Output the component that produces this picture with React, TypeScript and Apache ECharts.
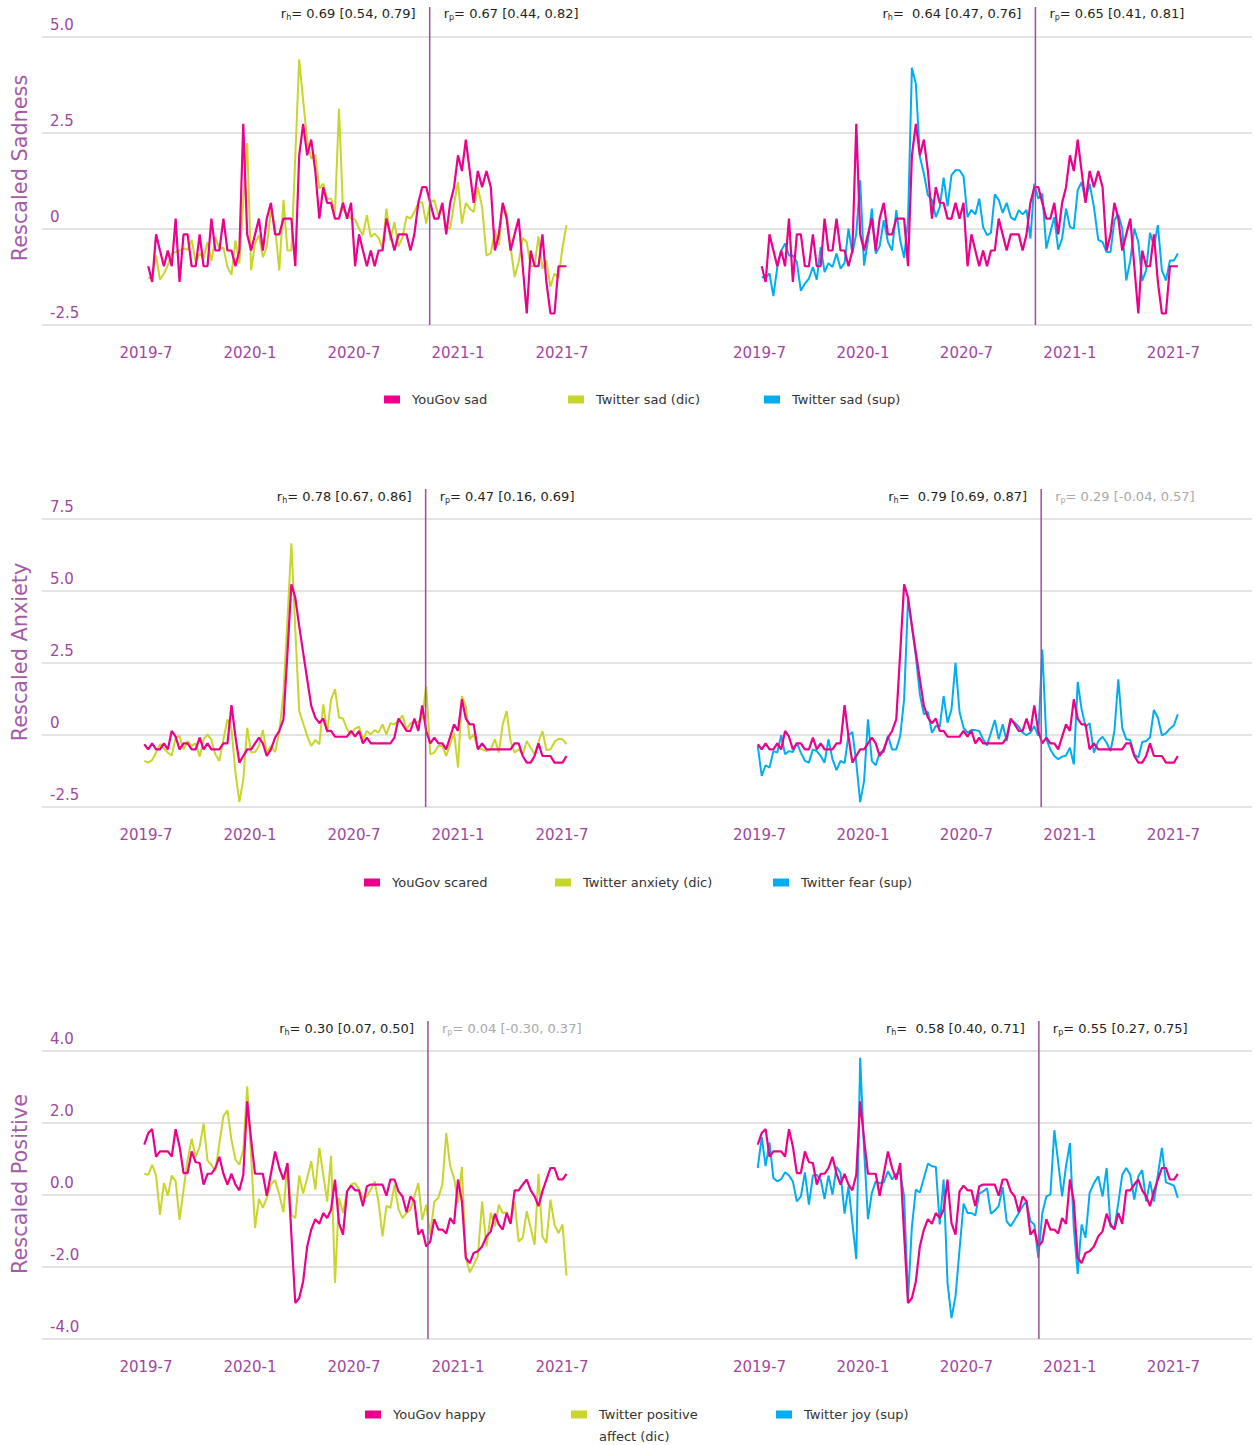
import React, { useEffect, useRef } from 'react';
import * as echarts from 'echarts';

// ---------- data ----------
const FIRST_WEEK = '2019-06-28'; // first weekly observation (rows 2 and 3); row 1 starts one week later
const WEEKS = 107;
const xTickLabels = ['2019-7', '2020-1', '2020-7', '2021-1', '2021-7'];

const yougovSad = [
  -0.97, -1.38, -0.14, -0.56, -0.97, -0.56, -0.97, 0.27, -1.38, -0.14,
  -0.14, -0.97, -0.97, -0.14, -0.97, -0.97, 0.27, -0.56, -0.56, 0.27,
  -0.56, -0.56, -0.97, -0.56, 2.74, -0.14, -0.56, -0.14, 0.27, -0.56,
  0.27, 0.68, -0.14, -0.14, 0.27, 0.27, 0.27, -0.97, 1.92, 2.74,
  1.92, 2.33, 1.51, 0.27, 1.09, 0.68, 0.68, 0.27, 0.27, 0.68,
  0.27, 0.68, -0.97, -0.14, -0.56, -0.97, -0.56, -0.97, -0.56, -0.56,
  0.27, -0.14, -0.56, -0.14, -0.14, -0.14, -0.56, -0.14, 0.68, 1.09,
  1.09, 0.68, 0.27, 0.27, 0.68, -0.14, 0.68, 1.09, 1.92, 1.51,
  2.33, 1.51, 0.68, 1.51, 1.09, 1.51, 1.09, -0.56, -0.14, 0.68,
  0.27, -0.56, -0.14, 0.27, -0.97, -2.2, -0.56, -0.97, -0.97, -0.14,
  -1.38, -2.2, -2.2, -0.97, -0.97, -0.97,
];
const twitterSadDic = [
  -1.29, -1.25, -0.69, -1.32, -1.16, -0.95, -0.64, -0.6, -0.56, -0.51,
  -0.54, -0.28, -0.86, -0.64, -0.77, -0.34, -0.83, -0.21, -0.51, -0.49,
  -0.99, -1.19, -0.3, -0.9, 0.75, 2.24, -1.08, -0.38, -0.16, -0.73,
  -0.47, 0.49, 0.05, -1.08, 0.76, -0.56, -0.56, 1.88, 4.41, 3.35,
  2.31, 1.83, 1.94, 1.05, 1.18, 0.79, 0.79, 0.44, 3.13, 0.49,
  0.4, 0.27, 0.25, 0.01, -0.16, 0.36, -0.21, -0.12, -0.23, -0.51,
  0.53, -0.3, 0.18, -0.45, -0.21, 0.33, 0.27, 0.44, 0.68, 0.7,
  0.14, 0.7, 0.75, 0.36, 0.57, 0.05, 0.01, 0.66, 1.22, 0.14,
  0.68, 0.53, 0.44, 1.09, 0.57, -0.69, -0.63, -0.03, -0.43, 0.66,
  0.4, -0.47, -1.25, -0.86, -0.23, -0.34, -0.97, -0.95, -0.19, -1.03,
  -0.82, -1.51, -1.16, -1.27, -0.47, 0.1,
];
const twitterSadSup = [
  -1.25, -1.27, -1.16, -1.75, -0.99, -0.57, -0.38, -0.69, -0.69, -0.86,
  -1.61, -1.42, -1.29, -0.99, -1.32, -0.47, -1.12, -0.89, -0.99, -0.64,
  -1.03, -0.89, 0.01, -0.64, -0.12, 1.27, -0.95, -0.3, 0.53, -0.64,
  -0.45, 0.23, -0.34, -0.56, 0.49, -0.3, -0.75, 0.23, 4.2, 3.78,
  1.88, 1.44, 0.88, 0.75, 0.31, 0.57, 1.34, 0.59, 1.4, 1.53,
  1.53, 1.37, 0.31, 0.5, 0.38, 0.79, 0.05, -0.16, -0.1, 0.9,
  0.76, 0.42, 0.68, 0.31, 0.23, 0.49, 0.38, 0.5, -0.25, 1.18,
  0.79, 0.92, -0.51, -0.08, 0.31, -0.54, -0.25, 0.53, 0.05, 0.01,
  1.01, 1.22, 0.75, 1.18, 0.57, -0.28, -0.34, -0.6, -0.6, 0.23,
  0.38, 0.01, -1.34, -0.82, 0.01, -0.34, -1.35, -1.08, -0.1, -0.45,
  0.1, -1.08, -1.34, -0.82, -0.82, -0.64,
];
const yougovScared = [
  -0.32, -0.5, -0.29, -0.5, -0.5, -0.29, -0.5, 0.14, -0.06, -0.5,
  -0.29, -0.29, -0.5, -0.5, -0.09, -0.5, -0.29, -0.5, -0.5, -0.5,
  -0.29, -0.29, 1.04, -0.06, -0.96, -0.73, -0.5, -0.5, -0.29, -0.09,
  -0.29, -0.73, -0.5, -0.09, 0.14, 0.54, 2.86, 5.23, 4.77, 3.78,
  2.86, 1.93, 1.01, 0.6, 0.41, 0.57, 0.14, 0.14, -0.06, -0.06,
  -0.06, -0.06, 0.14, -0.06, 0.14, -0.29, -0.09, -0.29, -0.29, -0.29,
  -0.29, -0.29, -0.29, -0.09, 0.57, 0.37, 0.14, 0.14, 0.57, 0.14,
  1.03, 0.14, -0.29, -0.09, -0.29, -0.29, -0.5, -0.06, 0.37, 0.14,
  1.24, 0.57, 0.37, 0.37, -0.5, -0.29, -0.5, -0.5, -0.5, -0.5,
  -0.5, -0.5, -0.5, -0.29, -0.29, -0.73, -0.96, -0.96, -0.73, -0.29,
  -0.73, -0.73, -0.73, -0.96, -0.96, -0.96, -0.73,
];
const twitterAnxietyDic = [
  -0.9, -0.96, -0.87, -0.61, -0.32, -0.47, -0.61, -0.71, -0.09, -0.03,
  -0.5, -0.21, -0.38, -0.29, -0.75, -0.15, 0.02, -0.17, -0.67, -0.9,
  -0.15, 0.54, 0.2, -1.31, -2.33, -1.54, 0.25, -0.61, -0.59, -0.38,
  0.17, -0.61, -0.38, -0.59, 0.08, 1.47, 4.02, 6.66, 3.67, 0.83,
  0.41, -0.03, -0.38, -0.17, -0.32, 1.06, 0.08, 1.24, 1.59, 0.6,
  0.57, 0.2, 0.02, 0.22, 0.29, -0.15, 0.14, 0.02, 0.17, 0.08,
  0.37, 0.02, 0.41, 0.37, 0.49, 0.68, 0.2, 0.41, 0.45, 0.45,
  0.6, 1.7, -0.67, -0.61, -0.38, -0.38, -0.73, -0.32, 0.08, -1.13,
  1.35, 1.01, -0.15, 0.02, -0.44, -0.5, -0.56, -0.5, -0.15, -0.61,
  0.37, 0.83, -0.21, -0.61, -0.5, -0.67, -0.21, -0.44, -0.67, -0.24,
  0.14, -0.52, -0.5, -0.24, -0.13, -0.15, -0.32,
];
const twitterFearSup = [
  -0.38, -1.42, -1.05, -1.13, -0.56, -0.61, -0.01, -0.67, -0.56, -0.59,
  -0.27, -0.61, -0.9, -0.96, -0.5, -0.56, -0.73, -0.96, -0.15, -0.84,
  -1.22, -0.9, -0.98, -0.01, 0.1, -0.96, -2.33, -1.6, 0.54, -0.9,
  -1.05, -0.61, -0.59, -0.03, -0.5, -0.5, -0.03, 1.24, 4.71, 3.78,
  2.74, 1.41, 0.72, 0.8, 0.08, 0.31, 0.29, 1.35, 0.43, 0.89,
  2.51, 0.8, 0.25, 0.08, 0.17, 0.17, 0.14, -0.15, -0.36, 0.08,
  0.52, -0.15, 0.37, -0.21, 0.52, 0.43, 0.29, 0.08, -0.01, 0.08,
  0.31, -0.03, 2.97, -0.15, -0.5, -0.73, -0.84, -0.75, -0.71, -0.44,
  -1.02, 1.84, 0.89, 0.29, 0.41, -0.61, -0.21, -0.06, -0.27, -0.56,
  0.14, 1.93, 0.25, -0.15, -0.17, -0.67, -0.79, -0.24, -0.21, -0.09,
  0.87, 0.6, -0.01, 0.06, 0.22, 0.34, 0.72,
];
const yougovHappy = [
  1.4, 1.72, 1.83, 1.06, 1.21, 1.21, 1.21, 1.07, 1.83, 1.35,
  0.61, 0.61, 1.21, 0.91, 0.89, 0.29, 0.59, 0.59, 0.75, 1.06,
  0.59, 0.29, 0.59, 0.29, 0.13, 0.56, 2.6, 1.54, 0.59, 0.59,
  0.59, -0.02, 0.59, 1.21, 0.75, 0.43, 0.89, -1.1, -3.0, -2.86,
  -2.4, -1.43, -0.96, -0.67, -0.8, -0.5, -0.64, -0.41, 0.43, -0.78,
  -1.1, 0.1, 0.26, 0.13, 0.13, -0.31, 0.24, 0.29, 0.29, 0.29,
  0.29, -0.02, 0.43, 0.43, 0.1, -0.04, -0.48, -0.04, -0.18, -1.1,
  -0.96, -1.43, -1.29, -0.67, -0.96, -0.96, -1.07, -0.64, -0.8, 0.43,
  -0.18, -1.75, -1.89, -1.61, -1.56, -1.43, -1.15, -1.01, -0.52, -0.82,
  -0.96, -0.5, -0.8, 0.13, 0.13, 0.29, 0.43, 0.13, -0.04, -0.31,
  0.1, 0.43, 0.75, 0.75, 0.43, 0.43, 0.59,
];
const twitterPositiveDic = [
  0.59, 0.56, 0.84, 0.54, -0.55, 0.33, -0.02, 0.54, 0.38, -0.69,
  0.15, 0.98, 1.56, 1.06, 1.35, 1.98, 0.96, 0.84, 0.66, 1.44,
  2.19, 2.35, 1.52, 0.98, 0.84, 1.26, 3.02, 1.07, -0.92, -0.11,
  -0.36, -0.08, 0.29, 0.41, 0.01, -0.48, 0.89, -0.55, -0.64, 0.54,
  0.04, 0.47, 0.94, 0.15, 1.31, 0.56, -0.18, 1.09, -2.44, -0.08,
  -0.5, 0.1, 0.29, 0.33, 0.15, -0.08, -0.04, 0.15, 0.38, -0.22,
  -1.15, -0.3, -0.36, 0.29, -0.39, -0.64, -0.5, -0.41, -0.04, 0.33,
  -0.69, -0.27, -1.1, -0.18, -0.08, 0.29, 1.72, 0.8, 0.47, -0.22,
  0.78, -1.75, -2.15, -1.94, -1.7, -0.18, -1.43, -0.5, -0.87, -0.27,
  -0.5, -0.48, -0.78, -0.18, -1.29, -1.19, -0.45, -0.92, -1.38, 0.59,
  -1.15, -1.33, -0.13, -0.82, -1.06, -0.82, -2.24,
];
const twitterJoySup = [
  0.75, 1.61, 0.8, 1.46, 0.47, 0.38, 0.44, 0.63, 0.54, 0.38,
  -0.18, -0.04, 0.63, -0.27, 0.54, 0.56, 0.43, -0.11, 0.54, 0.01,
  0.78, 0.61, -0.52, 0.24, -0.78, -1.78, 3.81, 1.26, -0.67, 0.06,
  0.38, 0.33, 0.35, 0.66, 0.43, 0.59, 0.61, -0.04, -2.9, -0.87,
  0.15, 0.07, 0.47, 0.87, 0.8, 0.78, -0.82, 0.43, -2.44, -3.42,
  -2.81, -1.52, -0.24, -0.5, -0.5, -0.57, 0.04, 0.1, 0.19, -0.52,
  -0.43, -0.31, 0.22, -0.73, -0.87, -0.69, -0.5, -0.31, -0.18, -0.73,
  -0.82, -1.75, -0.5, -0.04, 0.01, 1.8, 0.89, -0.04, 0.8, 1.44,
  -0.92, -2.19, -0.82, -1.19, 0.06, 0.33, 0.52, -0.04, 0.75, -0.87,
  -0.92, -0.22, 0.56, 0.75, 0.56, -0.13, 0.52, 0.69, -0.18, 0.38,
  -0.18, 0.56, 1.31, 0.35, 0.31, 0.26, -0.08,
];

// split date (drawn per panel) and correlation annotations
const splitDates = ['2020-11-12', '2020-11-01', '2020-11-05', '2020-11-11', '2020-11-09', '2020-11-07'];
const corrHospital = ['0.69 [0.54, 0.79]', ' 0.64 [0.47, 0.76]', '0.78 [0.67, 0.86]', ' 0.79 [0.69, 0.87]', '0.30 [0.07, 0.50]', ' 0.58 [0.40, 0.71]'];
const corrPost = ['0.67 [0.44, 0.82]', '0.65 [0.41, 0.81]', '0.47 [0.16, 0.69]', '0.29 [-0.04, 0.57]', '0.04 [-0.30, 0.37]', '0.55 [0.27, 0.75]'];
const corrPostSignificant = [true, true, true, false, false, true];

const rowTitles = ['Rescaled Sadness', 'Rescaled Anxiety', 'Rescaled Positive'];

// ---------- styling ----------
const PINK = '#ec008c';
const LIME = '#c8d62b';
const BLUE = '#00aeef';
const PURPLE = '#a0479c';
const TITLE_PURPLE = '#a45aa6';
const SPLIT_PURPLE = '#9b4f9b';
const FONT = '"DejaVu Sans", "Open Sans", sans-serif';

const GRID_H = 288;
const rowTops = [37, 519, 1051];
const panelLefts = [42, 656];
const panelWidths = [618, 599];
const PX_PER_MONTH = 416 / 24;
const AXIS_MIN = 2019 * 12; // January 2019 in month units

const rowY = [
  { min: -2.5, max: 5, interval: 2.5, fmt: (v: number) => (v === 0 ? '0' : v.toFixed(1)) },
  { min: -2.5, max: 7.5, interval: 2.5, fmt: (v: number) => (v === 0 ? '0' : v.toFixed(1)) },
  { min: -4, max: 4, interval: 2, fmt: (v: number) => v.toFixed(1) },
];
const annotTextY = [13, 496, 1028];
const splitLineTop = [7, 489, 1021];
const titleCenterY = [168, 652, 1184];

const legendRows = [
  { y: 399, items: [{ name: 'YouGov sad', x: 384 }, { name: 'Twitter sad (dic)', x: 568 }, { name: 'Twitter sad (sup)', x: 764 }] },
  { y: 882, items: [{ name: 'YouGov scared', x: 364 }, { name: 'Twitter anxiety (dic)', x: 555 }, { name: 'Twitter fear (sup)', x: 773 }] },
  { y: 1414, items: [{ name: 'YouGov happy', x: 365 }, { name: 'Twitter positive affect (dic)', x: 571 }, { name: 'Twitter joy (sup)', x: 776 }] },
];

function toMonthValue(ts: number) {
  const d = new Date(ts);
  const y = d.getUTCFullYear();
  const m = d.getUTCMonth();
  const dim = new Date(Date.UTC(y, m + 1, 0)).getUTCDate();
  return y * 12 + m + (d.getUTCDate() - 1) / dim;
}

const startTs = Date.parse(FIRST_WEEK + 'T00:00:00Z');
const weekX = Array.from({ length: WEEKS }, (_, i) => toMonthValue(startTs + i * 7 * 86400000));

function pairs(xs: number[], ys: number[]) {
  return ys.map((v, i) => [xs[i], v]);
}

const rowsSeries = [
  { xs: weekX.slice(1), yg: ['YouGov sad', yougovSad], dic: ['Twitter sad (dic)', twitterSadDic], sup: ['Twitter sad (sup)', twitterSadSup] },
  { xs: weekX, yg: ['YouGov scared', yougovScared], dic: ['Twitter anxiety (dic)', twitterAnxietyDic], sup: ['Twitter fear (sup)', twitterFearSup] },
  { xs: weekX, yg: ['YouGov happy', yougovHappy], dic: ['Twitter positive affect (dic)', twitterPositiveDic], sup: ['Twitter joy (sup)', twitterJoySup] },
] as any[];

function xLabel(v: number) {
  const y = Math.floor(v / 12);
  const m = Math.round(v - y * 12) + 1;
  const s = `${y}-${m}`;
  return xTickLabels.includes(s) ? s : '';
}

function buildOption() {
  const grid: any[] = [];
  const xAxis: any[] = [];
  const yAxis: any[] = [];
  const series: any[] = [];
  for (let r = 0; r < 3; r++) {
    for (let p = 0; p < 2; p++) {
      const k = r * 2 + p;
      grid.push({ left: panelLefts[p], top: rowTops[r], width: panelWidths[p], height: GRID_H });
      xAxis.push({
        gridIndex: k,
        type: 'value',
        min: AXIS_MIN,
        max: AXIS_MIN + panelWidths[p] / PX_PER_MONTH,
        interval: 6,
        axisLine: { show: false },
        axisTick: { show: false },
        splitLine: { show: false },
        axisLabel: { margin: 20, fontSize: 15, color: PURPLE, fontFamily: FONT, formatter: xLabel },
      });
      yAxis.push({
        gridIndex: k,
        type: 'value',
        min: rowY[r].min,
        max: rowY[r].max,
        interval: rowY[r].interval,
        axisLine: { show: false },
        axisTick: { show: false },
        splitLine: { show: true, lineStyle: { color: '#e3e3e3', width: 2 } },
        axisLabel: {
          show: p === 0,
          inside: true,
          margin: 8,
          fontSize: 15,
          color: PURPLE,
          fontFamily: FONT,
          verticalAlign: 'bottom',
          lineHeight: 25,
          formatter: rowY[r].fmt,
        },
      });
      const rs = rowsSeries[r];
      const tw = p === 0 ? rs.dic : rs.sup;
      series.push({
        type: 'line',
        name: tw[0],
        xAxisIndex: k,
        yAxisIndex: k,
        data: pairs(rs.xs, tw[1]),
        showSymbol: false,
        symbol: 'none',
        lineStyle: { width: 2, color: p === 0 ? LIME : BLUE },
        itemStyle: { color: p === 0 ? LIME : BLUE },
        z: 2,
      });
      series.push({
        type: 'line',
        name: rs.yg[0],
        xAxisIndex: k,
        yAxisIndex: k,
        data: pairs(rs.xs, rs.yg[1]),
        showSymbol: false,
        symbol: 'none',
        lineStyle: { width: 2.2, color: PINK },
        itemStyle: { color: PINK },
        z: 3,
      });
    }
  }
  const legend: any[] = [];
  legendRows.forEach((row) => {
    row.items.forEach((it) => {
      legend.push({
        data: [it.name],
        left: it.x,
        top: row.y - 6,
        padding: 0,
        itemWidth: 16,
        itemHeight: 8,
        icon: 'rect',
        selectedMode: false,
        formatter: it.name === 'Twitter positive affect (dic)' ? 'Twitter positive' : '{name}',
        textStyle: { fontSize: 13, color: '#333', fontFamily: FONT, padding: [0, 0, 0, 7] },
      });
    });
  });
  return {
    animation: false,
    backgroundColor: '#fff',
    textStyle: { fontFamily: FONT },
    grid,
    xAxis,
    yAxis,
    series,
    legend,
  };
}

function corrRich(sub: string, body: string, color: string) {
  return {
    text: `{a|r}{b|${sub}}{a|= ${body}}`,
    rich: {
      a: { fontSize: 13, fontFamily: FONT, fill: color, lineHeight: 16 },
      b: { fontSize: 8, fontFamily: FONT, fill: color, verticalAlign: 'bottom', lineHeight: 6 },
    },
  };
}

export default function App() {
  const ref = useRef<HTMLDivElement>(null);
  useEffect(() => {
    if (!ref.current) return;
    const chart = echarts.init(ref.current, undefined, { renderer: 'svg' });
    chart.setOption(buildOption());

    const graphic: any[] = [];
    for (let r = 0; r < 3; r++) {
      graphic.push({
        type: 'text',
        x: 20,
        y: titleCenterY[r],
        rotation: Math.PI / 2,
        z: 20,
        style: { text: rowTitles[r], align: 'center', verticalAlign: 'middle', fontSize: 20.8, fontFamily: FONT, fill: TITLE_PURPLE },
      });
      for (let p = 0; p < 2; p++) {
        const k = r * 2 + p;
        const mv = toMonthValue(Date.parse(splitDates[k] + 'T00:00:00Z'));
        const pt = chart.convertToPixel({ gridIndex: k } as any, [mv, 0]) as number[];
        const px = pt[0];
        const bottom = rowTops[r] + GRID_H;
        graphic.push({
          type: 'line',
          z: 20,
          shape: { x1: px, y1: splitLineTop[r], x2: px, y2: bottom },
          style: { stroke: SPLIT_PURPLE, lineWidth: 1.5 },
        });
        graphic.push({
          type: 'text',
          x: px - 14,
          y: annotTextY[r],
          z: 20,
          style: { ...corrRich('h', corrHospital[k], '#231f20'), align: 'right', verticalAlign: 'middle' },
        });
        const pc = corrPostSignificant[k] ? '#231f20' : '#a9a9a9';
        graphic.push({
          type: 'text',
          x: px + 14,
          y: annotTextY[r],
          z: 20,
          style: { ...corrRich('p', corrPost[k], pc), align: 'left', verticalAlign: 'middle' },
        });
      }
    }
    graphic.push({
      type: 'text',
      x: 599,
      y: 1436,
      z: 20,
      style: { text: 'affect (dic)', align: 'left', verticalAlign: 'middle', fontSize: 13, fontFamily: FONT, fill: '#333' },
    });
    chart.setOption({ graphic });

    return () => {
      chart.dispose();
    };
  }, []);
  return (
    <div
      ref={ref}
      style={{ position: 'absolute', left: 0, top: 0, width: 1255, height: 1445, background: '#fff' }}
    />
  );
}
